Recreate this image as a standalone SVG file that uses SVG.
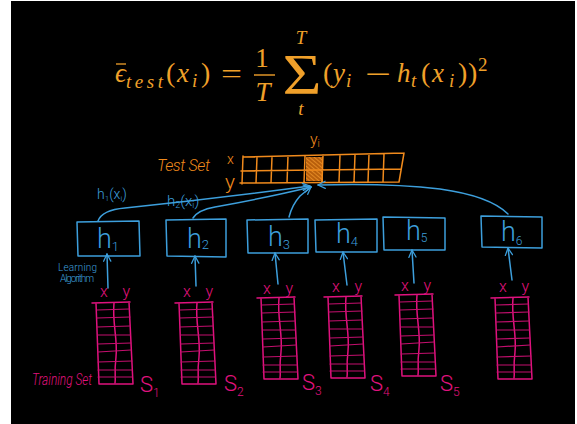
<svg xmlns="http://www.w3.org/2000/svg" width="577" height="424" viewBox="0 0 577 424">
<style>
#formula text{fill:#f0a02a}
#formula text.it{font-style:italic}
.b{fill:none;stroke:#3d9fdc;stroke-width:1.5;stroke-linecap:round;stroke-linejoin:round}
.o{fill:none;stroke:#f08a1c;stroke-width:1.5;stroke-linecap:round;stroke-linejoin:round}
.p{fill:none;stroke:#e0127e;stroke-width:1.5;stroke-linecap:round;stroke-linejoin:round}
.p2{fill:none;stroke:#c40f6e;stroke-width:1.2;stroke-linecap:round}
.hb{font-family:"Roboto","Liberation Sans",sans-serif;font-weight:300;fill:#3d9fdc}
.ho{font-family:"Roboto","Liberation Sans",sans-serif;font-weight:300;fill:#f08a1c}
.hp{font-family:"Roboto","Liberation Sans",sans-serif;font-weight:300;fill:#e0127e}
.sl{font-style:italic}
</style>
<defs>
<marker id="ah" viewBox="0 0 10 10" refX="9" refY="5" markerWidth="9" markerHeight="9" orient="auto" markerUnits="userSpaceOnUse">
<path d="M1,1 L9,5 L1,9" fill="none" stroke="#3d9fdc" stroke-width="1.4" stroke-linecap="round" stroke-linejoin="round"/>
</marker>
<pattern id="hatch" width="3" height="3" patternUnits="userSpaceOnUse" patternTransform="rotate(-50)">
<rect width="3" height="3" fill="#b85f0c"/>
<line x1="0" y1="0" x2="0" y2="3" stroke="#f59a2c" stroke-width="1.4"/>
</pattern>
<g id="tbl">
<path class="p" d="M-3,1 L35,0 M1,1 L4,82 L38,82 L34,0"/>
<path class="p" d="M19,1 C17,20 23,38 21,55 S21,74 20,81"/>
<path class="p2" d="M2,8 L34,7 M2,16 L35,15 M2,25 L35,24 M3,33 L35,33 M3,42 L36,41 M3,50 L36,48 M3,60 L37,59 M3,68 L37,68 M3,75 L37,75"/>
</g>
</defs>
<rect width="577" height="424" fill="#fff"/>
<rect x="11" y="1" width="564" height="423" fill="#000"/>

<g id="formula" font-family="Liberation Serif, DejaVu Serif, serif">
<text x="115" y="82" font-size="27" class="it">ϵ</text>
<line x1="116" y1="64" x2="126" y2="64" stroke="#f0a02a" stroke-width="1.3"/>
<text x="126" y="88" font-size="19" class="it" textLength="37" lengthAdjust="spacing">test</text>
<text x="166" y="82" font-size="28">(</text>
<text x="177" y="82" font-size="27" class="it">x</text>
<text x="192" y="87" font-size="19" class="it">i</text>
<text x="201" y="82" font-size="28">)</text>
<text x="221" y="83" font-size="27" textLength="21" lengthAdjust="spacingAndGlyphs">=</text>
<text x="262" y="67" font-size="27" text-anchor="middle">1</text>
<line x1="254" y1="75" x2="275" y2="75" stroke="#f0a02a" stroke-width="1.4"/>
<text x="263" y="101" font-size="27" class="it" text-anchor="middle">T</text>
<text transform="translate(302,94) scale(1,1.3)" font-size="44" text-anchor="middle" textLength="39" lengthAdjust="spacingAndGlyphs">Σ</text>
<text x="301" y="44" font-size="19" class="it" text-anchor="middle">T</text>
<text x="301" y="115" font-size="19" class="it" text-anchor="middle">t</text>
<text x="323" y="82" font-size="28">(</text>
<text x="333" y="82" font-size="27" class="it">y</text>
<text x="346" y="87" font-size="19" class="it">i</text>
<text x="365" y="83" font-size="27" textLength="26" lengthAdjust="spacingAndGlyphs">−</text>
<text x="397" y="82" font-size="27" class="it">h</text>
<text x="411" y="87" font-size="19" class="it">t</text>
<text x="421" y="82" font-size="28">(</text>
<text x="432" y="82" font-size="27" class="it">x</text>
<text x="449" y="87" font-size="19" class="it">i</text>
<text x="458" y="82" font-size="28">)</text>
<text x="468" y="82" font-size="28">)</text>
<text x="478" y="71" font-size="19">2</text>
</g>

<g id="test-set">
<rect x="306" y="157" width="17" height="24" fill="url(#hatch)"/>
<path class="o" d="M243,157 L404,153 M241,171 L401,169 M240,183 L399,182 M243,156 L242,184 M404,153 L399,182 M257,157 L256,183 M272,157 L271,183 M288,156 L287,183 M305,156 L304,183 M323,155 L322,182 M340,155 L339,182 M355,155 L354,182 M369,154 L368,182 M384,154 L383,182"/>
<text class="ho sl" x="157" y="171" font-size="16" textLength="53">Test Set</text>
<text class="ho" x="227" y="164" font-size="14">x</text>
<text class="ho" x="225" y="189" font-size="21">y</text>
<text class="ho" x="310" y="145" font-size="16">y<tspan font-size="10" dy="2">i</tspan></text>
</g>

<g id="h1"><path class="b" d="M77,222 L139,221 L140,256 L78,256 Z"/><text class="hb" x="97" y="248" font-size="27">h<tspan font-size="13" dy="3">1</tspan></text></g>
<g id="h2"><path class="b" d="M166,220 L226,219 L226,257 L167,256 Z"/><text class="hb" x="187" y="248" font-size="27">h<tspan font-size="13" dy="1">2</tspan></text></g>
<g id="h3"><path class="b" d="M247,220 L308,219 L308,253 L248,253 Z"/><text class="hb" x="268" y="246" font-size="27">h<tspan font-size="13" dy="3">3</tspan></text></g>
<g id="h4"><path class="b" d="M315,220 L377,219 L377,252 L316,252 Z"/><text class="hb" x="336" y="243" font-size="27">h<tspan font-size="13" dy="3">4</tspan></text></g>
<g id="h5"><path class="b" d="M383,217 L445,218 L445,250 L384,250 Z"/><text class="hb" x="406" y="240" font-size="27">h<tspan font-size="12" dy="2">5</tspan></text></g>
<g id="h6"><path class="b" d="M481,216 L542,217 L542,248 L482,247 Z"/><text class="hb" x="501" y="241" font-size="27">h<tspan font-size="12" dy="4">6</tspan></text></g>

<g id="s1"><use href="#tbl" x="95" y="302"/><text class="hp" x="100" y="297" font-size="16" textLength="30">x y</text><text class="hp" x="140" y="392" font-size="22">S<tspan font-size="12" dy="5">1</tspan></text><text class="hp sl" x="32" y="385" font-size="17" textLength="60" lengthAdjust="spacingAndGlyphs">Training Set</text></g>
<g id="s2"><use href="#tbl" x="178" y="302"/><text class="hp" x="183" y="297" font-size="16" textLength="30">x y</text><text class="hp" x="224" y="391" font-size="22">S<tspan font-size="12" dy="5">2</tspan></text></g>
<g id="s3"><use href="#tbl" x="260" y="297"/><text class="hp" x="263" y="294" font-size="16" textLength="30">x y</text><text class="hp" x="302" y="390" font-size="22">S<tspan font-size="12" dy="5">3</tspan></text></g>
<g id="s4"><use href="#tbl" x="327" y="296"/><text class="hp" x="332" y="292" font-size="16" textLength="30">x y</text><text class="hp" x="370" y="391" font-size="22">S<tspan font-size="12" dy="5">4</tspan></text></g>
<g id="s5"><use href="#tbl" x="398" y="294"/><text class="hp" x="401" y="291" font-size="16" textLength="30">x y</text><text class="hp" x="440" y="391" font-size="22">S<tspan font-size="12" dy="5">5</tspan></text></g>
<g id="s6"><use href="#tbl" x="494" y="297"/><text class="hp" x="499" y="292" font-size="16" textLength="30">x y</text></g>

<g id="connectors">
<path class="b" marker-end="url(#ah)" d="M98,221 Q102,210 125,208 Q220,198 310,186"/>
<path class="b" marker-end="url(#ah)" d="M193,218 Q198,210 215,207 Q270,197 311,187"/>
<path class="b" marker-end="url(#ah)" d="M289,217 Q292,205 300,196 L311,187"/>
<path class="b" marker-end="url(#ah)" d="M508,214 Q490,196 440,189 Q390,183 318,185"/>
<path class="b" marker-end="url(#ah)" d="M108,288 L107,254"/>
<path class="b" marker-end="url(#ah)" d="M196,286 L195,256"/>
<path class="b" marker-end="url(#ah)" d="M278,284 L275,253"/>
<path class="b" marker-end="url(#ah)" d="M347,285 L343,252"/>
<path class="b" marker-end="url(#ah)" d="M414,283 L412,250"/>
<path class="b" marker-end="url(#ah)" d="M512,280 L508,248"/>
<text class="hb" x="97" y="199" font-size="14">h<tspan font-size="8" dy="2">1</tspan><tspan dy="-2">(x</tspan><tspan font-size="8" dy="2">i</tspan><tspan dy="-2">)</tspan></text>
<text class="hb" x="167" y="206" font-size="15">h<tspan font-size="9" dy="2">2</tspan><tspan dy="-2">(x</tspan><tspan font-size="9" dy="2">i</tspan><tspan dy="-2">)</tspan></text>
<text class="hb" x="58" y="271" font-size="10" textLength="39">Learning</text>
<text class="hb" x="60" y="282" font-size="10" textLength="34">Algorithm</text>
</g>
</svg>
